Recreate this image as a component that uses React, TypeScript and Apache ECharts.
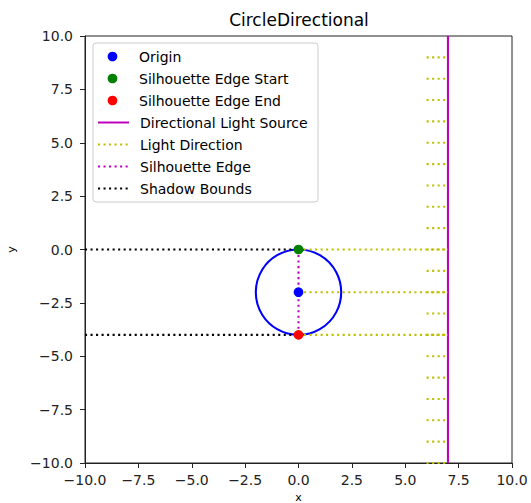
import React, { useEffect, useRef } from "react";
import * as echarts from "echarts";

// ---- data ----
const origin: [number, number] = [0, -2];
const circleRadius = 2;
const silhouetteStart: [number, number] = [0, 0];
const silhouetteEnd: [number, number] = [0, -4];
const lightSourceX = 7;
const lightSourceYs = [-10, 10];
const shortRayStartX = 6;
const shortRayYs = [9, 8, 7, 6, 5, 4, 3, 2, 1, 0, -1, -2, -3, -4, -5, -6, -7, -8, -9, -10];
const longRayStarts: [number, number][] = [[0, 0], [0, -2], [0, -4]];
const shadowStartX = -10;
const shadowEnds: [number, number][] = [[0, 0], [0, -4]];
const axisMin = -10;
const axisMax = 10;
const tickStep = 2.5;

const FONT = "DejaVu Sans";
const BLUE = "#0000ff";
const GREEN = "#008000";
const RED = "#ff0000";
const MAGENTA = "#bf00bf";
const YELLOW = "#bfbf00";
const BLACK = "#000000";
const LW = 2.08;
const DOT: number[] = [2.08, 3.44];
const MARKER = 9.7;

const fmt = (v: number) => {
  const s = Math.abs(v).toFixed(1);
  return v < 0 ? "\u2212" + s : s;
};

const lineSeries = (name: string, data: number[][], color: string, dotted: boolean, z = 3) => ({
  type: "line",
  name,
  data,
  symbol: "none",
  showSymbol: false,
  z,
  lineStyle: { color, width: LW, type: dotted ? DOT : "solid", cap: "butt" },
  itemStyle: { color },
  emphasis: { disabled: true },
  silent: true,
});

export default function App() {
  const ref = useRef<HTMLDivElement>(null);
  useEffect(() => {
    if (!ref.current) return;
    const chart = echarts.init(ref.current, undefined, { renderer: "svg" });

    const series: any[] = [];
    series.push({
      type: "custom",
      name: "circle",
      z: 2,
      silent: true,
      data: [[origin[0], origin[1], circleRadius]],
      renderItem: (_p: any, api: any) => {
        const c = api.coord([api.value(0), api.value(1)]);
        const r = api.size([api.value(2), 0])[0];
        return {
          type: "circle",
          shape: { cx: c[0], cy: c[1], r },
          style: { fill: "none", stroke: BLUE, lineWidth: LW },
        };
      },
    });
    series.push(
      lineSeries(
        "Directional Light Source",
        lightSourceYs.map((y) => [lightSourceX, y]),
        MAGENTA,
        false
      )
    );
    shortRayYs.forEach((y) => {
      series.push(lineSeries("Light Direction", [[shortRayStartX, y], [lightSourceX, y]], YELLOW, true));
    });
    longRayStarts.forEach((p) => {
      series.push(lineSeries("Light Direction", [p, [lightSourceX, p[1]]], YELLOW, true));
    });
    series.push(lineSeries("Silhouette Edge", [silhouetteStart, silhouetteEnd], MAGENTA, true));
    shadowEnds.forEach((p) => {
      series.push(lineSeries("Shadow Bounds", [[shadowStartX, p[1]], p], BLACK, true));
    });
    const scatter = (name: string, p: [number, number], color: string) => ({
      type: "scatter",
      name,
      data: [p],
      symbol: "circle",
      symbolSize: MARKER,
      z: 5,
      itemStyle: { color, opacity: 1 },
      emphasis: { disabled: true },
      silent: true,
    });
    series.push(scatter("Origin", origin, BLUE));
    series.push(scatter("Silhouette Edge Start", silhouetteStart, GREEN));
    series.push(scatter("Silhouette Edge End", silhouetteEnd, RED));

    const legendText = { fontSize: 14, color: "#000", fontFamily: FONT, padding: [0, 0, 0, 6] };
    const iconW = 31;

    chart.setOption({
      animation: false,
      title: {
        text: "CircleDirectional",
        left: 299,
        top: 11,
        padding: 0,
        textAlign: "center",
        textStyle: { fontSize: 17, fontWeight: "normal", color: "#000", fontFamily: FONT },
      },
      grid: {
        left: 85,
        right: 19,
        top: 36,
        bottom: 40,
        show: true,
        borderColor: "#222",
        borderWidth: 1,
        backgroundColor: "transparent",
        outerBoundsMode: "none",
        containLabel: false,
      },
      legend: [
        {
          orient: "vertical",
          left: 97 + (iconW - MARKER) / 2,
          top: 49.5,
          padding: 0,
          itemWidth: iconW,
          itemHeight: MARKER,
          itemGap: 8,
          selectedMode: false,
          z: 10,
          textStyle: legendText,
          data: [
            { name: "Origin", icon: "circle" },
            { name: "Silhouette Edge Start", icon: "circle" },
            { name: "Silhouette Edge End", icon: "circle" },
          ],
        },
        {
          orient: "vertical",
          left: 97,
          top: 115.5,
          padding: 0,
          itemWidth: iconW,
          itemHeight: 14,
          itemGap: 8,
          selectedMode: false,
          z: 10,
          itemStyle: { opacity: 0 },
          textStyle: legendText,
          data: ["Directional Light Source", "Light Direction", "Silhouette Edge", "Shadow Bounds"],
        },
      ],
      graphic: [
        {
          type: "rect",
          z: 8,
          shape: { x: 93, y: 43, width: 225, height: 159, r: 3 },
          style: { fill: "rgba(255,255,255,0.8)", stroke: "#cccccc", lineWidth: 1 },
        },
      ],
      xAxis: {
        type: "value",
        min: axisMin,
        max: axisMax,
        interval: tickStep,
        name: "x",
        nameLocation: "middle",
        nameGap: 23,
        nameTextStyle: { fontSize: 11, color: "#000", fontFamily: FONT, lineHeight: 12 },
        axisLine: { show: true, onZero: false, lineStyle: { color: "#222", width: 1 } },
        axisTick: { show: true, length: 5, lineStyle: { color: "#222" } },
        axisLabel: { fontSize: 14, color: "#222", fontFamily: FONT, margin: 10, formatter: fmt },
        splitLine: { show: false },
      },
      yAxis: {
        type: "value",
        min: axisMin,
        max: axisMax,
        interval: tickStep,
        name: "y",
        nameLocation: "middle",
        nameGap: 68,
        nameRotate: 90,
        nameTextStyle: { fontSize: 11, color: "#000", fontFamily: FONT },
        axisLine: { show: true, onZero: false, lineStyle: { color: "#222", width: 1 } },
        axisTick: { show: true, length: 5, lineStyle: { color: "#222" } },
        axisLabel: { fontSize: 14, color: "#222", fontFamily: FONT, margin: 12, formatter: fmt },
        splitLine: { show: false },
      },
      series,
    });
    return () => chart.dispose();
  }, []);
  return <div ref={ref} style={{ width: 531, height: 503, position: "absolute", left: 0, top: 0 }} />;
}
